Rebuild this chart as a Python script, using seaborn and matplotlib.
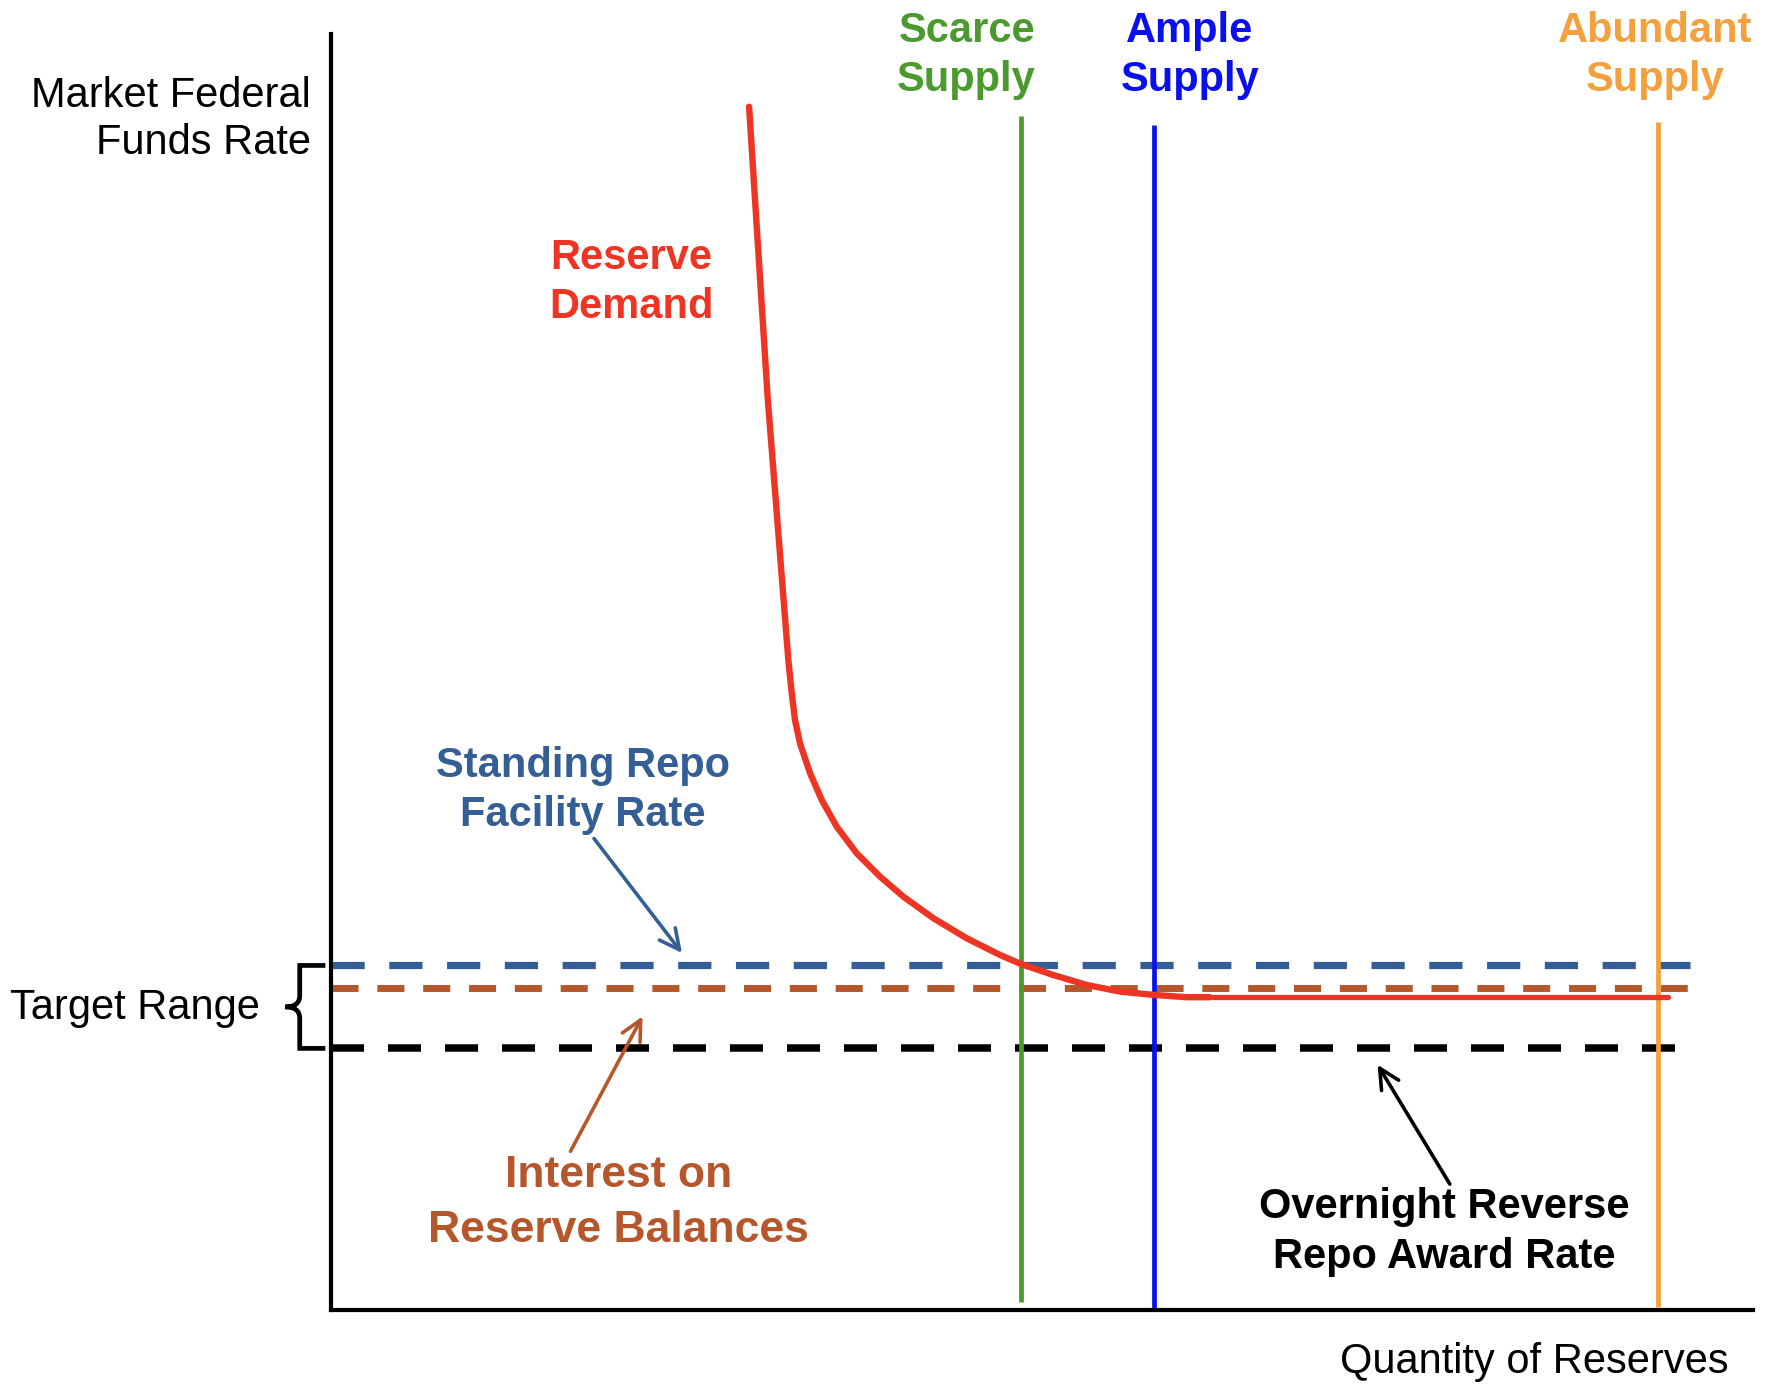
import matplotlib
matplotlib.use("Agg")
import matplotlib.pyplot as plt
import matplotlib.patches as mpatches
from matplotlib.path import Path
import seaborn as sns

# policy rates (arbitrary rate units, 0-100 axis)
srf_rate = 27.0      # standing repo facility rate
iorb_rate = 25.2     # interest on reserve balances
onrrp_rate = 20.5    # overnight reverse repo award rate
rate_line_end = 95.6

# reserve supply levels (arbitrary quantity units)
supply_names = ["Scarce\nSupply", "Ample\nSupply", "Abundant\nSupply"]
supply_x = [48.5, 57.9, 93.3]
supply_bottom = [0.6, 0.0, 0.2]
supply_top = [93.6, 92.9, 93.1]
supply_colors = ["#4a9a2e", "#0a0ff0", "#f4a03c"]
supply_label_x = [44.7, 60.4, 93.1]

# reserve demand curve
demand_x = [29.4, 30.7, 32.16, 32.40, 32.63, 32.98, 33.69, 34.51, 35.56,
            36.97, 38.61, 40.25, 42.36, 44.70, 47.05, 48.50, 50.79, 53.14,
            55.49, 57.86, 60.18, 61.81]
demand_y = [94.3, 71.6, 50.94, 48.33, 46.24, 44.41, 42.06, 39.97, 37.88,
            35.79, 33.96, 32.39, 30.70, 29.13, 27.82, 27.12, 26.25, 25.47,
            24.95, 24.69, 24.51, 24.51]
flat_x = [62.0, 94.0]
flat_y = [24.5, 24.5]

sns.set_style("white")
plt.rcParams['font.family'] = ['Liberation Sans', 'DejaVu Sans']
plt.rcParams['text.color'] = 'black'

fig = plt.figure(figsize=(17.72, 13.94), dpi=100)
ax = fig.add_axes([0.1868, 0.0603, 0.8025, 0.9153])
ax.set_xlim(0, 100)
ax.set_ylim(0, 100)

# policy rate lines
ax.hlines(srf_rate, 0, rate_line_end, color="#345e96", lw=5.2,
          linestyles=(0, (4.6, 3.4)))
ax.hlines(iorb_rate, 0, rate_line_end, color="#b5572b", lw=5.0,
          linestyles=(0, (3.9, 2.7)))
ax.hlines(onrrp_rate, 0, rate_line_end, color="black", lw=5.4,
          linestyles=(0, (4.4, 3.2)))

# supply lines
for xs, y0, y1, c in zip(supply_x, supply_bottom, supply_top, supply_colors):
    ax.vlines(xs, y0, y1, color=c, lw=3.4)

# demand curve
sns.lineplot(x=demand_x, y=demand_y, ax=ax, color="#ee3524", lw=4.6,
             sort=False)
sns.lineplot(x=flat_x, y=flat_y, ax=ax, color="#ee3524", lw=3.8)

# text labels
big = 30
for name, lx, c in zip(supply_names, supply_label_x, supply_colors):
    ax.text(lx, 98.3, name, color=c, fontsize=big, fontweight="bold",
            ha="center", va="center", linespacing=1.3, clip_on=False)

ax.text(-1.4, 93.3, "Market Federal\nFunds Rate", fontsize=big,
        ha="right", va="center", clip_on=False)
ax.text(-5.0, 23.7, "Target Range", fontsize=big, ha="right",
        va="center", clip_on=False)
ax.text(98.3, -4.1, "Quantity of Reserves", fontsize=big, ha="right",
        va="center", clip_on=False)
ax.text(21.1, 80.5, "Reserve\nDemand", color="#ee3524", fontsize=big,
        fontweight="bold", ha="center", va="center", linespacing=1.3)

arrow = dict(arrowstyle="->", lw=2.6, mutation_scale=36)
ax.annotate("Standing Repo\nFacility Rate", xy=(24.8, 27.8),
            xytext=(17.7, 40.7), color="#345e96", fontsize=big,
            fontweight="bold", ha="center", va="center", linespacing=1.3,
            arrowprops=dict(arrow, color="#345e96", shrinkA=0,
                            relpos=(0.53, 0.0)))
ax.annotate("Interest on\nReserve Balances", xy=(22.0, 23.2),
            xytext=(20.2, 8.4), color="#b5572b", fontsize=32,
            fontweight="bold", ha="center", va="center", linespacing=1.45,
            arrowprops=dict(arrow, color="#b5572b", shrinkA=0,
                            relpos=(0.37, 1.0)))
ax.annotate("Overnight Reverse\nRepo Award Rate", xy=(73.5, 19.4),
            xytext=(78.3, 6.1), color="black", fontsize=big,
            fontweight="bold", ha="center", va="center", linespacing=1.3,
            arrowprops=dict(arrow, color="black", shrinkA=0,
                            relpos=(0.52, 1.0)))

# brace for the target range
top, bot = srf_rate, onrrp_rate
mid = (top + bot) / 2
xr, xm, xl = -0.4, -2.2, -3.2
verts = [(xr, top), (xm, top), (xm, top), (xm, top - 0.9),
         (xm, mid + 0.9), (xm, mid), (xl, mid),
         (xm, mid), (xm, mid - 0.9),
         (xm, bot + 0.9), (xm, bot), (xm, bot), (xr, bot)]
codes = [Path.MOVETO, Path.CURVE3, Path.CURVE3, Path.LINETO,
         Path.LINETO, Path.CURVE3, Path.CURVE3,
         Path.CURVE3, Path.CURVE3,
         Path.LINETO, Path.CURVE3, Path.CURVE3, Path.LINETO]
brace = mpatches.PathPatch(Path(verts, codes), fill=False, lw=3.4,
                           edgecolor="black", clip_on=False)
ax.add_patch(brace)

# axes styling
sns.despine(ax=ax)
for side in ["left", "bottom"]:
    ax.spines[side].set_linewidth(3)
    ax.spines[side].set_color("black")
ax.set_xticks([])
ax.set_yticks([])
ax.set_xlabel("")
ax.set_ylabel("")

fig.savefig("out.png", dpi=100)
